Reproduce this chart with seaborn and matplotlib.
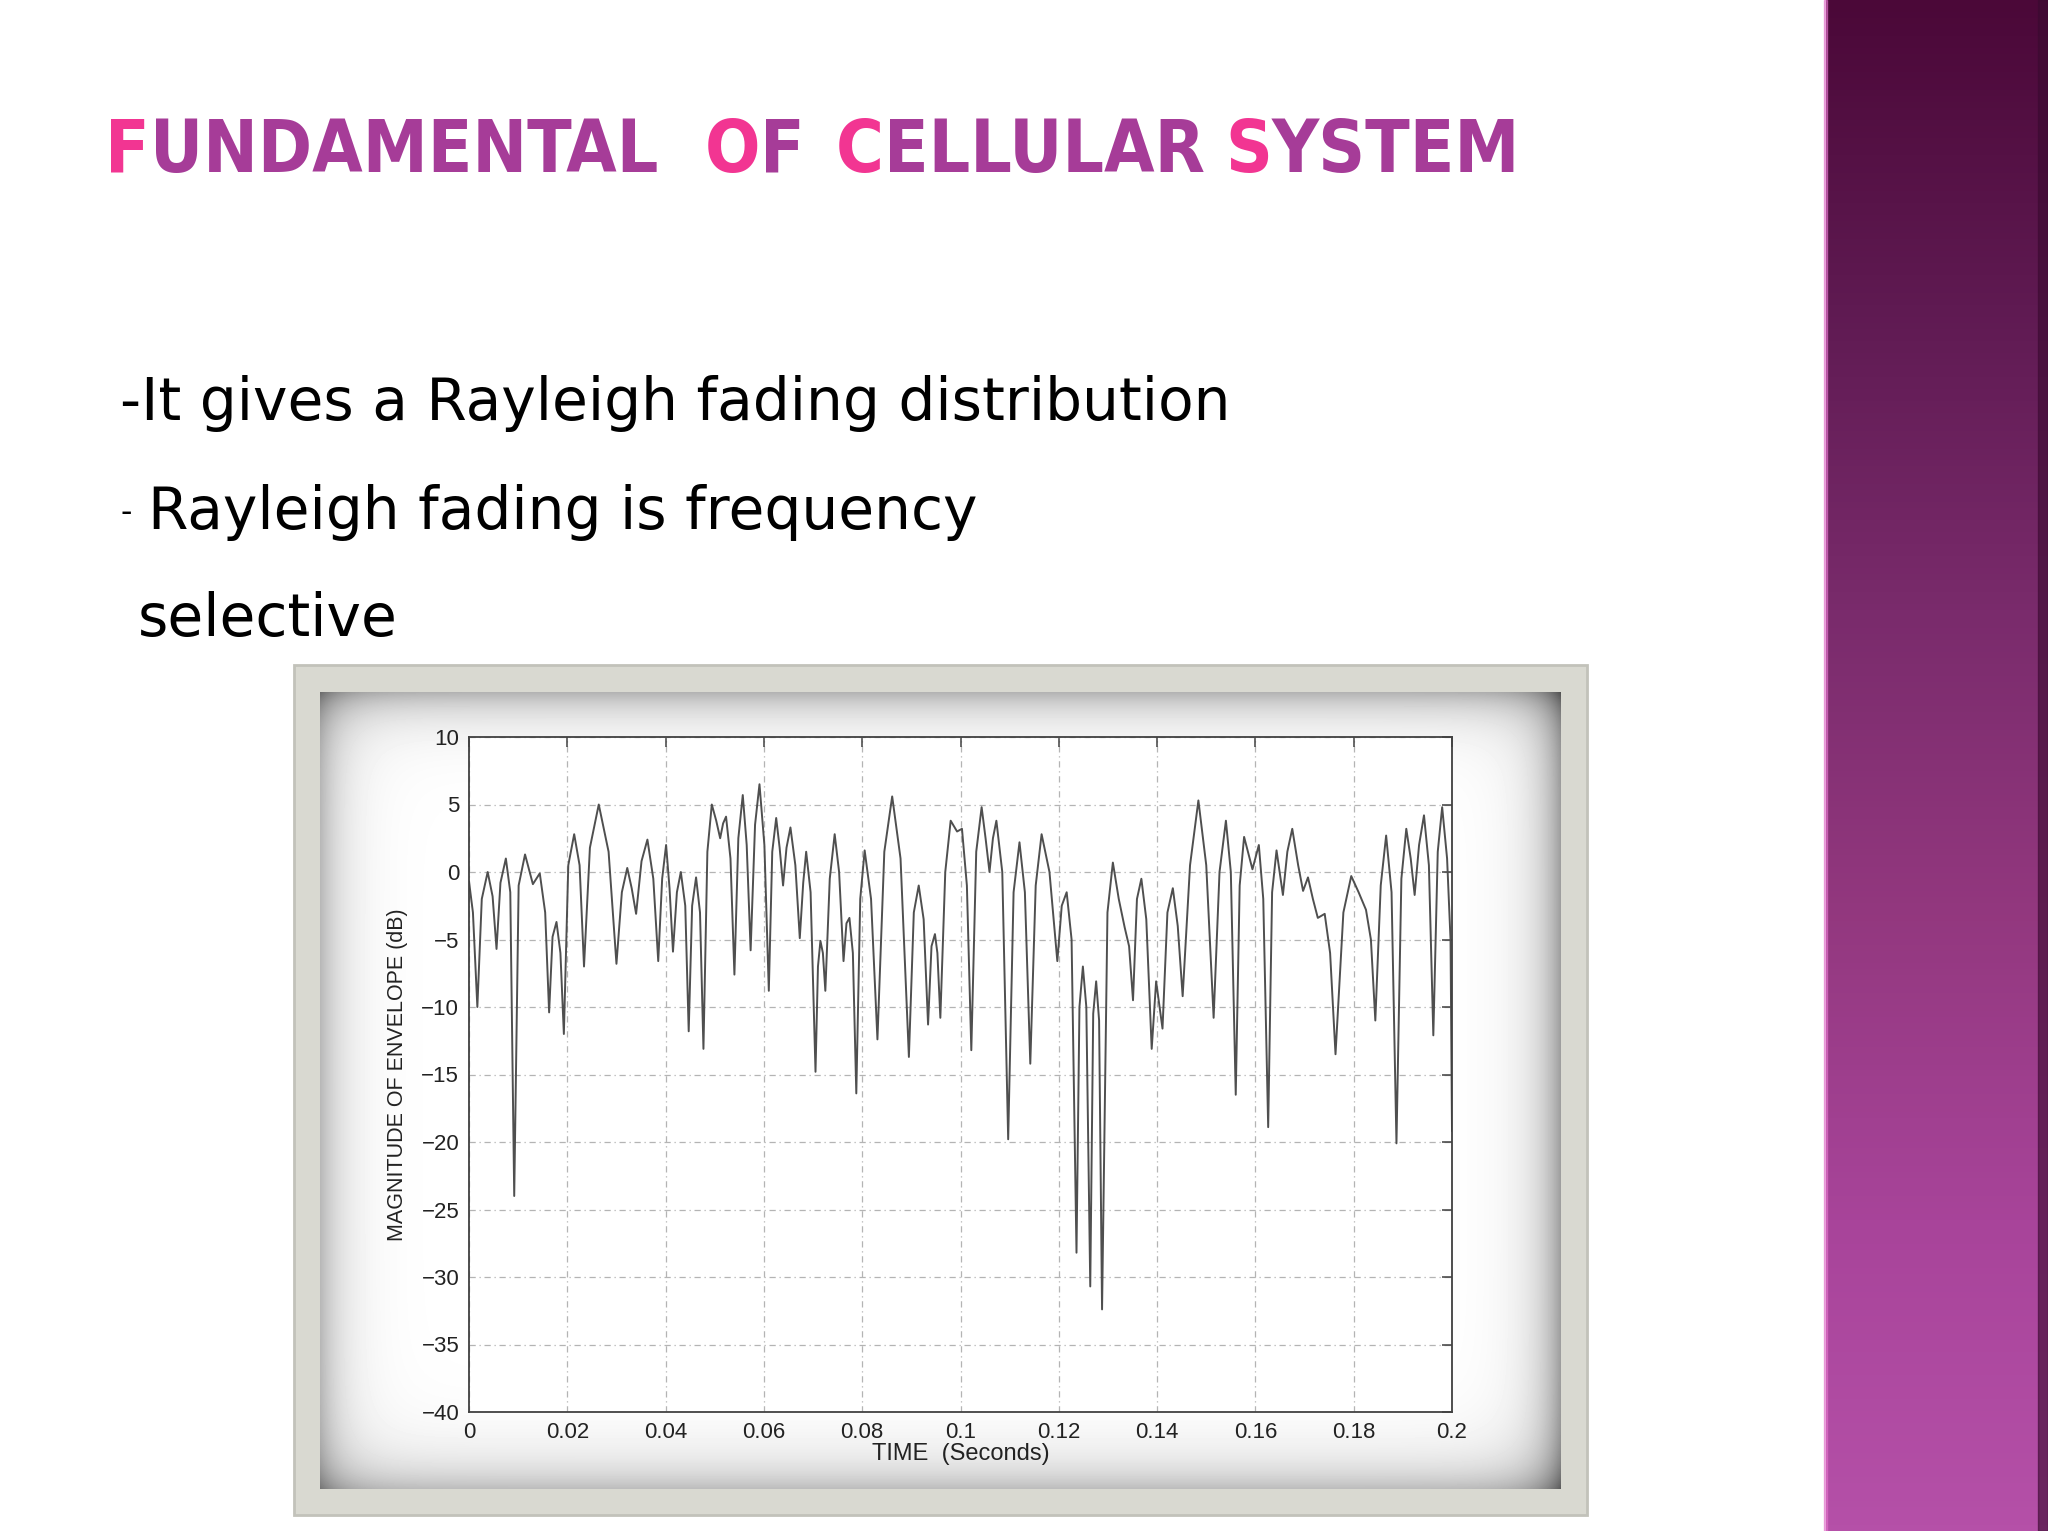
import matplotlib
matplotlib.use("Agg")
import matplotlib.pyplot as plt
import numpy as np
import pandas as pd
import seaborn as sns
from matplotlib.patches import Rectangle
from matplotlib.colors import LinearSegmentedColormap

# --- envelope: fades, peaks and the arcs between them ---
time_s = [
    0.0000, 0.0008, 0.0017, 0.0026, 0.0038, 0.0048, 0.0056, 0.0064, 0.0075, 0.0084,
    0.0092, 0.0101, 0.0114, 0.0130, 0.0144, 0.0155, 0.0163, 0.0170, 0.0178, 0.0186,
    0.0193, 0.0202, 0.0214, 0.0225, 0.0234, 0.0246, 0.0264, 0.0284, 0.0300, 0.0311,
    0.0322, 0.0331, 0.0340, 0.0351, 0.0363, 0.0375, 0.0385, 0.0393, 0.0401, 0.0408,
    0.0415, 0.0423, 0.0431, 0.0440, 0.0447, 0.0454, 0.0462, 0.0470, 0.0477, 0.0485,
    0.0494, 0.0503, 0.0511, 0.0517, 0.0523, 0.0532, 0.0540, 0.0548, 0.0557, 0.0565,
    0.0573, 0.0582, 0.0591, 0.0601, 0.0610, 0.0617, 0.0625, 0.0632, 0.0639, 0.0646,
    0.0654, 0.0664, 0.0673, 0.0680, 0.0686, 0.0695, 0.0705, 0.0710, 0.0715, 0.0720,
    0.0725, 0.0734, 0.0744, 0.0753, 0.0762, 0.0768, 0.0774, 0.0781, 0.0788, 0.0796,
    0.0805, 0.0818, 0.0831, 0.0845, 0.0861, 0.0878, 0.0895, 0.0905, 0.0915, 0.0925,
    0.0934, 0.0941, 0.0948, 0.0953, 0.0959, 0.0969, 0.0980, 0.0993, 0.1003, 0.1013,
    0.1022, 0.1032, 0.1043, 0.1051, 0.1059, 0.1066, 0.1073, 0.1085, 0.1097, 0.1108,
    0.1120, 0.1131, 0.1142, 0.1153, 0.1165, 0.1181, 0.1197, 0.1206, 0.1216, 0.1226,
    0.1236, 0.1242, 0.1249, 0.1256, 0.1264, 0.1270, 0.1276, 0.1282, 0.1288, 0.1299,
    0.1310, 0.1322, 0.1334, 0.1343, 0.1351, 0.1359, 0.1368, 0.1378, 0.1389, 0.1398,
    0.1411, 0.1421, 0.1432, 0.1442, 0.1452, 0.1467, 0.1484, 0.1500, 0.1515, 0.1527,
    0.1540, 0.1550, 0.1560, 0.1568, 0.1577, 0.1594, 0.1607, 0.1616, 0.1626, 0.1634,
    0.1643, 0.1656, 0.1665, 0.1675, 0.1687, 0.1697, 0.1707, 0.1717, 0.1727, 0.1741,
    0.1752, 0.1763, 0.1779, 0.1795, 0.1810, 0.1825, 0.1835, 0.1844, 0.1855, 0.1866,
    0.1877, 0.1887, 0.1897, 0.1907, 0.1916, 0.1924, 0.1933, 0.1943, 0.1953, 0.1962,
    0.1971, 0.1980, 0.1990, 0.1997, 0.2000,
]
envelope_db = [
    -0.7, -3.0, -10.0, -2.0, 0.0, -1.8, -5.7, -0.8, 1.0, -1.5,
    -24.0, -1.0, 1.3, -0.9, -0.1, -3.0, -10.4, -4.8, -3.7, -6.0,
    -12.0, 0.5, 2.8, 0.5, -7.0, 1.8, 5.0, 1.5, -6.8, -1.5,
    0.3, -1.2, -3.1, 0.8, 2.4, -0.5, -6.6, -0.5, 2.0, -1.2,
    -5.9, -1.5, 0.0, -2.5, -11.8, -2.5, -0.4, -3.0, -13.1, 1.5,
    5.0, 3.8, 2.5, 3.6, 4.1, 1.0, -7.6, 2.5, 5.7, 2.0,
    -5.8, 3.5, 6.5, 2.0, -8.8, 1.5, 4.0, 1.8, -1.0, 1.8,
    3.3, 0.5, -4.9, -0.8, 1.5, -1.5, -14.8, -7.0, -5.1, -6.0,
    -8.8, -0.5, 2.8, 0.0, -6.6, -3.8, -3.4, -6.0, -16.4, -2.0,
    1.6, -2.0, -12.4, 1.5, 5.6, 1.0, -13.7, -3.0, -1.0, -3.5,
    -11.3, -5.5, -4.6, -6.0, -10.8, 0.0, 3.8, 3.0, 3.2, -1.0,
    -13.2, 1.5, 4.8, 2.5, 0.0, 2.5, 3.8, 0.0, -19.8, -1.5,
    2.2, -1.5, -14.2, -1.0, 2.8, 0.0, -6.6, -2.5, -1.5, -5.0,
    -28.2, -10.0, -7.0, -10.0, -30.7, -10.5, -8.1, -11.0, -32.4, -3.0,
    0.7, -2.0, -4.1, -5.5, -9.5, -2.0, -0.5, -3.5, -13.1, -8.1,
    -11.6, -3.0, -1.2, -4.0, -9.2, 0.5, 5.3, 0.5, -10.8, 0.0,
    3.8, 0.0, -16.5, -1.0, 2.6, 0.2, 2.0, -2.0, -18.9, -1.5,
    1.6, -1.7, 1.5, 3.2, 0.5, -1.4, -0.4, -2.0, -3.4, -3.1,
    -6.0, -13.5, -3.0, -0.3, -1.5, -2.8, -5.0, -11.0, -1.0, 2.7,
    -1.5, -20.1, -0.5, 3.2, 1.0, -1.7, 2.0, 4.2, 0.5, -12.1,
    1.5, 4.8, 1.0, -5.0, -19.2,
]
x_ticks = [0, 0.02, 0.04, 0.06, 0.08, 0.1, 0.12, 0.14, 0.16, 0.18, 0.2]
x_tick_labels = ["0", "0.02", "0.04", "0.06", "0.08", "0.1", "0.12", "0.14", "0.16", "0.18", "0.2"]
y_ticks = [-40, -35, -30, -25, -20, -15, -10, -5, 0, 5, 10]

title_words = ["FUNDAMENTAL", "OF", "CELLULAR", "SYSTEM"]
title_x = [105, 705, 836, 1225]
bullet_lines = ["-It gives a Rayleigh fading distribution", "Rayleigh fading is frequency", "selective"]

df = pd.DataFrame({"time_s": time_s, "envelope_db": envelope_db})

sns.set_style("white")
plt.rcParams["font.family"] = ["DejaVu Sans"]

W, H = 2048, 1531
fig = plt.figure(figsize=(W / 100, H / 100), dpi=100)
fig.patch.set_facecolor("white")

# background axes in pixel coordinates
bg = fig.add_axes([0, 0, 1, 1], zorder=0)
bg.set_xlim(0, W)
bg.set_ylim(H, 0)
bg.axis("off")

# purple side bar
purple = LinearSegmentedColormap.from_list(
    "bar", ["#4b0838", "#5f1a52", "#7a2b6c", "#93387f", "#a8449a", "#b550a8"])
bg.imshow(np.linspace(0, 1, 256).reshape(-1, 1), cmap=purple, aspect="auto",
          extent=[1826, W, H, 0], zorder=1)
bg.add_patch(Rectangle((2038, 0), 10, H, color="#3a0a30", alpha=0.6, zorder=2))
bg.add_patch(Rectangle((1824, 0), 3, H, color="#e070c8", alpha=0.6, zorder=2))

# picture frame with a shaded white mat
bg.add_patch(Rectangle((294, 665), 1293, 850, facecolor="#d9d9d1",
                       edgecolor="#c2c2ba", lw=2, zorder=1))
mx0, my0, mx1, my1 = 320, 692, 1561, 1489
yy, xx = np.mgrid[0:my1 - my0, 0:mx1 - mx0]
d_l, d_r = xx, (mx1 - mx0 - 1) - xx
d_t, d_b = yy, (my1 - my0 - 1) - yy
shade = (0.28 * np.exp(-d_l / 24) + 0.38 * np.exp(-d_r / 24)
         + 0.30 * np.exp(-d_t / 24) + 0.26 * np.exp(-d_b / 28))
mat = np.clip(1 - shade, 0, 1)
bg.imshow(mat, cmap="gray", vmin=0, vmax=1, aspect="auto",
          extent=[mx0, mx1, my1, my0], zorder=2)

fig.canvas.draw()
renderer = fig.canvas.get_renderer()

# title, first letter of each word in pink
title_kw = dict(fontweight="bold", fontstretch="condensed", va="baseline", zorder=5)
probe = bg.text(0, 0, "".join(title_words), fontsize=40, **title_kw)
tsize = 40 * (565 + 94 + 355 + 300) / probe.get_window_extent(renderer).width
probe.remove()
for word, x0 in zip(title_words, title_x):
    t1 = bg.text(x0, 172, word[0], fontsize=tsize, color="#f23592", **title_kw)
    w1 = t1.get_window_extent(renderer).width
    bg.text(x0 + w1, 172, word[1:], fontsize=tsize, color="#a63c98", **title_kw)

# bullet text
probe = bg.text(0, 0, bullet_lines[0], fontsize=40, va="baseline")
bsize = 40 * 1110 / probe.get_window_extent(renderer).width
probe.remove()
bg.text(120, 420, bullet_lines[0], fontsize=bsize, color="black", va="baseline", zorder=5)
bg.text(120, 522, "-", fontsize=bsize * 0.55, color="black", va="baseline", zorder=5)
bg.text(148, 529, bullet_lines[1], fontsize=bsize, color="black", va="baseline", zorder=5)
bg.text(138, 636, bullet_lines[2], fontsize=bsize, color="black", va="baseline", zorder=5)

# the chart
ax = fig.add_axes([469 / W, 1 - 1412 / H, 983 / W, 675 / H], zorder=3)
ax.set_facecolor("white")
sns.lineplot(data=df, x="time_s", y="envelope_db", ax=ax, sort=False, estimator=None,
             color="#4f4f4f", linewidth=1.4)
ax.set_xlim(0, 0.2)
ax.set_ylim(-40, 10)
ax.set_xticks(x_ticks)
ax.set_xticklabels(x_tick_labels)
ax.set_yticks(y_ticks)
ax.grid(True, linestyle=(0, (5, 3, 1, 3)), color="#b4b4b4", linewidth=0.9)
for sp in ax.spines.values():
    sp.set_visible(True)
    sp.set_color("#404040")
    sp.set_linewidth(1.3)
ax.tick_params(direction="in", length=7, width=1.1, color="#404040",
               top=True, right=True, labelsize=16, labelcolor="#222222", pad=7)
for lab in ax.get_xticklabels() + ax.get_yticklabels():
    lab.set_family(["Liberation Sans", "DejaVu Sans"])
ax.set_xlabel("TIME  (Seconds)", fontsize=17, family=["Liberation Sans", "DejaVu Sans"],
              color="#222222", labelpad=0)
ax.set_ylabel("MAGNITUDE OF ENVELOPE (dB)", fontsize=15.5,
              family=["Liberation Sans", "DejaVu Sans"], color="#222222", labelpad=10)

fig.savefig("out.png", dpi=100, facecolor="white")
